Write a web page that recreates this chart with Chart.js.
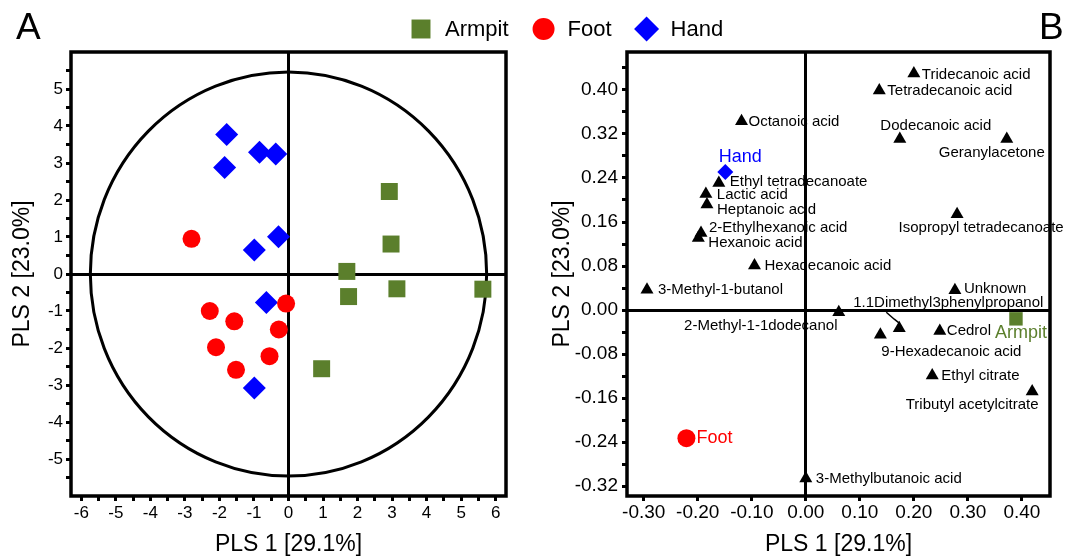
<!DOCTYPE html>
<html>
<head>
<meta charset="utf-8">
<script src="https://cdn.jsdelivr.net/npm/chart.js@4.4.1/dist/chart.umd.min.js"></script>
<style>
  html, body { margin: 0; padding: 0; background: #fff; }
  #wrap { position: relative; width: 1077px; height: 558px; overflow: hidden; }
  #chart-a { position: absolute; left: 0; top: 0; }
  #chart-b { position: absolute; left: 540px; top: 0; }
</style>
</head>
<body>
<div id="wrap">
  <canvas id="chart-a" width="1077" height="558"></canvas>
  <canvas id="chart-b" width="537" height="558"></canvas>
</div>
<script>
// ---- panel A: PLS scores ----
const armpitX = [2.92, 2.97, 1.69, 1.74, 3.14, 5.63, 0.96];
const armpitY = [2.23, 0.81, 0.07, -0.61, -0.40, -0.41, -2.56];
const footX = [-2.81, -2.28, -1.57, -0.07, -0.28, -2.10, -0.55, -1.52];
const footY = [0.95, -1.00, -1.28, -0.80, -1.50, -1.98, -2.22, -2.59];
const handX = [-1.79, -1.85, -0.84, -0.37, -0.29, -0.99, -0.64, -0.99];
const handY = [3.77, 2.88, 3.29, 3.24, 1.01, 0.65, -0.77, -3.08];

// Hotelling ellipse semi axes
const ellipseRadiusX = 5.74;
const ellipseRadiusY = 5.46;

const xTickLabelsA = [-6, -5, -4, -3, -2, -1, 0, 1, 2, 3, 4, 5, 6];
const yTickLabelsA = [-5, -4, -3, -2, -1, 0, 1, 2, 3, 4, 5];

// ---- panel B: PLS loadings ----
const compoundNames = ['Tridecanoic acid', 'Tetradecanoic acid', 'Octanoic acid', 'Dodecanoic acid',
  'Geranylacetone', 'Ethyl tetradecanoate', 'Lactic acid', 'Heptanoic acid', '2-Ethylhexanoic acid',
  'Hexanoic acid', 'Hexadecanoic acid', 'Isopropyl tetradecanoate', '3-Methyl-1-butanol', 'Unknown',
  '1.1Dimethyl3phenylpropanol', '2-Methyl-1-1dodecanol', '9-Hexadecanoic acid', 'Cedrol',
  'Ethyl citrate', 'Tributyl acetylcitrate', '3-Methylbutanoic acid'];
const loadingX = [0.200, 0.136, -0.119, 0.174, 0.372, -0.161, -0.185, -0.183, -0.194, -0.199, -0.095,
  0.280, -0.294, 0.276, 0.173, 0.061, 0.138, 0.248, 0.234, 0.419, 0.000];
const loadingY = [0.430, 0.399, 0.343, 0.311, 0.311, 0.231, 0.211, 0.192, 0.140, 0.131, 0.081,
  0.174, 0.037, 0.036, -0.033, -0.004, -0.045, -0.038, -0.119, -0.148, -0.306];

const groupNames = ['Armpit', 'Foot', 'Hand'];
const groupX = [0.389, -0.221, -0.149];
const groupY = [-0.016, -0.233, 0.251];

const xTickLabelsB = [-0.30, -0.20, -0.10, 0.00, 0.10, 0.20, 0.30, 0.40];
const yTickLabelsB = [-0.32, -0.24, -0.16, -0.08, 0.00, 0.08, 0.16, 0.24, 0.32, 0.40];

// ---- styling ----
const FONT = "'Liberation Sans', Arial, sans-serif";
Chart.defaults.font.family = FONT;
Chart.defaults.color = '#000';

const colors = { Armpit: '#5b7f2c', Foot: '#ff0000', Hand: '#0000ff' };
const shapes = { Armpit: 'rect', Foot: 'circle', Hand: 'rectRot' };

// label placement for panel B: [dx, dy, align] in px from the marker
const labelPlacement = {
  'Tridecanoic acid': [8, 1, 'left'],
  'Tetradecanoic acid': [8, 0, 'left'],
  'Octanoic acid': [7, 1, 'left'],
  'Dodecanoic acid': [36, -13, 'center'],
  'Geranylacetone': [-15, 14, 'center'],
  'Ethyl tetradecanoate': [11, -1, 'left'],
  'Lactic acid': [11, 1, 'left'],
  'Heptanoic acid': [10, 5, 'left'],
  '2-Ethylhexanoic acid': [8, -5, 'left'],
  'Hexanoic acid': [10, 5, 'left'],
  'Hexadecanoic acid': [10, 0, 'left'],
  'Isopropyl tetradecanoate': [24, 14, 'center'],
  '3-Methyl-1-butanol': [11, 0, 'left'],
  'Unknown': [9, -1, 'left'],
  '1.1Dimethyl3phenylpropanol': [49, -25, 'center'],
  '2-Methyl-1-1dodecanol': [-78, 14, 'center'],
  '9-Hexadecanoic acid': [71, 17, 'center'],
  'Cedrol': [7, 0, 'left'],
  'Ethyl citrate': [9, 0, 'left'],
  'Tributyl acetylcitrate': [-60, 13, 'center'],
  '3-Methylbutanoic acid': [10, 0, 'left'],
  'Hand': [15, -15, 'center'],
  'Foot': [10, 0, 'left'],
  'Armpit': [5, 14, 'center']
};

function pairs(xs, ys) {
  return xs.map((x, i) => ({ x: x, y: ys[i] }));
}

function tickRange(from, to, step) {
  const out = [];
  const n = Math.round((to - from) / step);
  for (let i = 0; i <= n; i++) out.push(Math.round((from + i * step) * 1000) / 1000);
  return out;
}

function hasLabel(list, v) {
  return list.some(t => Math.abs(t - v) < 1e-6);
}

function makeAxis(o) {
  return {
    type: 'linear',
    position: o.position,
    min: o.min,
    max: o.max,
    afterBuildTicks: s => { s.ticks = o.ticks.map(v => ({ value: v })); },
    afterFit: s => {
      if (o.position === 'bottom') s.height = o.size; else s.width = o.size;
    },
    border: { display: false },
    grid: {
      drawOnChartArea: true,
      color: c => (c.tick && c.tick.value === 0 ? '#000' : 'rgba(0,0,0,0)'),
      lineWidth: 3,
      drawTicks: true,
      tickLength: 5,
      tickWidth: 3,
      tickColor: '#000'
    },
    ticks: {
      autoSkip: false,
      maxRotation: 0,
      minRotation: 0,
      padding: o.tickPad,
      color: '#000',
      font: { size: o.tickSize },
      callback: v => (hasLabel(o.labels, v) ? o.fmt(v) : '')
    },
    title: {
      display: true,
      text: o.title,
      color: '#000',
      font: { size: 23 },
      padding: o.position === 'bottom' ? { top: 0, bottom: 0 } : { top: 9, bottom: 0 }
    }
  };
}

const framePlugin = {
  id: 'frame',
  beforeDatasetsDraw(chart) {
    const a = chart.chartArea;
    const ctx = chart.ctx;
    ctx.save();
    ctx.strokeStyle = '#000';
    ctx.lineWidth = 3.5;
    ctx.strokeRect(a.left, a.top, a.right - a.left, a.bottom - a.top);
    ctx.restore();
  }
};

function letterPlugin(letter, x) {
  return {
    id: 'letter' + letter,
    afterDraw(chart) {
      const ctx = chart.ctx;
      ctx.save();
      ctx.fillStyle = '#000';
      ctx.font = '37px ' + FONT;
      ctx.textAlign = 'left';
      ctx.textBaseline = 'alphabetic';
      ctx.fillText(letter, x, 39);
      ctx.restore();
    }
  };
}

const ellipsePlugin = {
  id: 'ellipse',
  beforeDatasetsDraw(chart) {
    const xs = chart.scales.x, ys = chart.scales.y;
    const cx = xs.getPixelForValue(0), cy = ys.getPixelForValue(0);
    const rx = xs.getPixelForValue(ellipseRadiusX) - cx;
    const ry = cy - ys.getPixelForValue(ellipseRadiusY);
    const ctx = chart.ctx;
    ctx.save();
    ctx.beginPath();
    ctx.ellipse(cx, cy, rx, ry, 0, 0, Math.PI * 2);
    ctx.strokeStyle = '#000';
    ctx.lineWidth = 3;
    ctx.stroke();
    ctx.restore();
  }
};

function markPoint(ctx, style, r, x, y) {
  if (Chart.helpers && Chart.helpers.drawPoint) {
    Chart.helpers.drawPoint(ctx, { pointStyle: style, radius: r, rotation: 0, borderWidth: 0 }, x, y);
    return;
  }
  ctx.beginPath();
  ctx.arc(x, y, r, 0, Math.PI * 2);
  ctx.fill();
}

const legendPlugin = {
  id: 'topLegend',
  afterDraw(chart) {
    const ctx = chart.ctx;
    const sizes = { rect: 13.4, circle: 11, rectRot: 12.5 };
    let cursor = 410;
    const y = 29;
    ctx.save();
    ctx.font = '22px ' + FONT;
    ctx.textBaseline = 'middle';
    ctx.textAlign = 'left';
    chart.data.datasets.forEach(ds => {
      const cx = cursor + 11;
      ctx.fillStyle = ds.backgroundColor;
      markPoint(ctx, ds.pointStyle, sizes[ds.pointStyle], cx, y);
      ctx.fillStyle = '#000';
      const tx = cx + 24;
      ctx.fillText(ds.label, tx, y + 1);
      cursor = tx + ctx.measureText(ds.label).width + 24;
    });
    ctx.restore();
  }
};

const pointLabelPlugin = {
  id: 'pointLabels',
  afterDatasetsDraw(chart) {
    const ctx = chart.ctx;
    ctx.save();
    ctx.textBaseline = 'middle';
    chart.data.datasets.forEach((ds, di) => {
      const meta = chart.getDatasetMeta(di);
      meta.data.forEach((el, i) => {
        const name = ds.names[i];
        const p = labelPlacement[name] || [8, 0, 'left'];
        const isGroup = ds.label !== 'Compounds';
        ctx.font = (isGroup ? '18px ' : '15px ') + FONT;
        ctx.fillStyle = isGroup ? ds.backgroundColor : '#000';
        ctx.textAlign = p[2];
        ctx.fillText(name, el.x + p[0], el.y + p[1]);
        if (name === '1.1Dimethyl3phenylpropanol') {
          ctx.beginPath();
          ctx.moveTo(el.x - 13, el.y - 16);
          ctx.lineTo(el.x - 5, el.y - 9);
          ctx.lineTo(el.x, el.y - 5);
          ctx.strokeStyle = '#000';
          ctx.lineWidth = 1.5;
          ctx.stroke();
        }
      });
    });
    ctx.restore();
  }
};

// ---- chart A ----
const scoreSets = [
  { name: 'Armpit', xs: armpitX, ys: armpitY, r: 12 },
  { name: 'Foot', xs: footX, ys: footY, r: 9 },
  { name: 'Hand', xs: handX, ys: handY, r: 11.5 }
];

new Chart(document.getElementById('chart-a').getContext('2d'), {
  type: 'scatter',
  data: {
    datasets: scoreSets.map(s => ({
      label: s.name,
      data: pairs(s.xs, s.ys),
      pointStyle: shapes[s.name],
      pointRadius: s.r,
      pointHoverRadius: s.r,
      backgroundColor: colors[s.name],
      borderColor: colors[s.name],
      borderWidth: 0
    }))
  },
  options: {
    responsive: false,
    animation: false,
    devicePixelRatio: 1,
    layout: { padding: { left: 0, right: 571, top: 52, bottom: 0 } },
    plugins: { legend: { display: false }, tooltip: { enabled: false } },
    scales: {
      x: makeAxis({ position: 'bottom', min: -6.3, max: 6.3, ticks: tickRange(-6, 6, 0.5),
        labels: xTickLabelsA, fmt: v => String(v), size: 62, tickSize: 17, tickPad: 2,
        title: 'PLS 1 [29.1%]' }),
      y: makeAxis({ position: 'left', min: -6, max: 6, ticks: tickRange(-5.5, 5.5, 0.5),
        labels: yTickLabelsA, fmt: v => String(v), size: 71, tickSize: 17, tickPad: 3,
        title: 'PLS 2 [23.0%]' })
    }
  },
  plugins: [framePlugin, ellipsePlugin, legendPlugin, letterPlugin('A', 16)]
});

// ---- chart B ----
const groupSets = groupNames.map((g, i) => ({
  label: g,
  names: [g],
  data: [{ x: groupX[i], y: groupY[i] }],
  pointStyle: shapes[g],
  pointRadius: g === 'Armpit' ? 9.5 : (g === 'Foot' ? 9 : 8),
  pointHoverRadius: 9,
  backgroundColor: colors[g],
  borderColor: colors[g],
  borderWidth: 0
}));

new Chart(document.getElementById('chart-b').getContext('2d'), {
  type: 'scatter',
  data: {
    datasets: [{
      label: 'Compounds',
      names: compoundNames,
      data: pairs(loadingX, loadingY),
      pointStyle: 'triangle',
      pointRadius: 7.5,
      pointHoverRadius: 7.5,
      backgroundColor: '#000',
      borderColor: '#000',
      borderWidth: 0
    }].concat(groupSets)
  },
  options: {
    responsive: false,
    animation: false,
    devicePixelRatio: 1,
    layout: { padding: { left: 0, right: 27, top: 52, bottom: 0 } },
    plugins: { legend: { display: false }, tooltip: { enabled: false } },
    scales: {
      x: makeAxis({ position: 'bottom', min: -0.331, max: 0.452, ticks: xTickLabelsB,
        labels: xTickLabelsB, fmt: v => v.toFixed(2), size: 62, tickSize: 19, tickPad: 0,
        title: 'PLS 1 [29.1%]' }),
      y: makeAxis({ position: 'left', min: -0.338, max: 0.469, ticks: tickRange(-0.32, 0.44, 0.04),
        labels: yTickLabelsB, fmt: v => v.toFixed(2), size: 87, tickSize: 19, tickPad: 4,
        title: 'PLS 2 [23.0%]' })
    }
  },
  plugins: [framePlugin, pointLabelPlugin, letterPlugin('B', 499)]
});
</script>
</body>
</html>
